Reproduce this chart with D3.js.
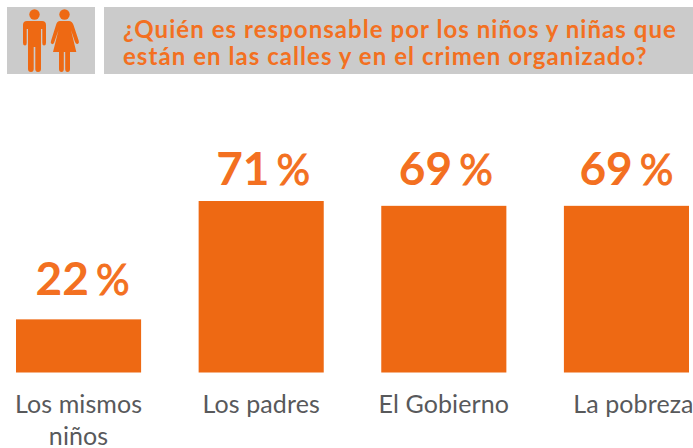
<!DOCTYPE html>
<html>
<head>
<meta charset="utf-8">
<script src="https://cdn.jsdelivr.net/npm/d3@7"></script>
<style>
body { margin: 0; background: #fff; }
svg { display: block; }
text { font-family: Lato, "Open Sans", sans-serif; }
</style>
</head>
<body>
<script>
// chart data
var categories = ["Los mismos niños", "Los padres", "El Gobierno", "La pobreza"];
var values = [22, 71, 69, 69];
var titleLines = ["¿Quién es responsable por los niños y niñas que", "están en las calles y en el crimen organizado?"];

// hand tweaks so the labels sit where the original has them
var valueDx = [4, 2, 2, 0];
var valueGap = [24, 16, 21, 21];
var categoryDx = [0, 0, 0, 7];

var width = 693;
var height = 448;
var orange = "#ee6913";
var labelOrange = "#f37021";
var grey = "#cbcbcb";

var svg = d3.select("body")
    .append("svg")
    .attr("width", width)
    .attr("height", height);

// header boxes
svg.append("rect").attr("x", 7).attr("y", 7).attr("width", 88).attr("height", 67).attr("fill", grey);
svg.append("rect").attr("x", 104).attr("y", 7).attr("width", 589).attr("height", 67).attr("fill", grey);

// man icon
var man = svg.append("g").attr("fill", orange);
man.append("circle").attr("cx", 34.5).attr("cy", 14.5).attr("r", 5.2);
man.append("path").attr("d", "M27 21 H42 Q46 21 46 25 V43 Q46 45.5 44 45.5 Q42.3 45.5 42.3 43 V29 H41 V69 Q41 72 38 72 Q35.3 72 35.3 69 V47 H33.7 V69 Q33.7 72 31 72 Q28 72 28 69 V29 H26.7 V43 Q26.7 45.5 25 45.5 Q23 45.5 23 43 V25 Q23 21 27 21 Z");

// woman icon
var woman = svg.append("g").attr("fill", orange);
woman.append("circle").attr("cx", 64.5).attr("cy", 14.5).attr("r", 5.2);
woman.append("path").attr("d", "M60 21 H69 Q72 21 73.5 25 L78.8 41 Q79.5 43.5 77.5 44 Q76 44.3 75 42 L71 30 L76.3 52 H70 V69 Q70 72 67.5 72 Q65.2 72 65.2 69 V52 H63.8 V69 Q63.8 72 61.5 72 Q59 72 59 69 V52 H53 L58.5 30 L54 43 Q53 44.8 51.5 43.8 Q50.3 43 51 41 L56 25 Q57 21 60 21 Z");

// title
svg.append("text")
    .attr("font-size", "24px")
    .attr("font-weight", 700)
    .attr("letter-spacing", "1.05px")
    .attr("fill", labelOrange)
    .selectAll("tspan")
    .data(titleLines)
    .enter().append("tspan")
    .attr("x", 123)
    .attr("y", function(d, i) { return 38 + i * 27; })
    .text(function(d) { return d; });

// scales
var x = d3.scaleBand().domain(categories).range([16, 689]).paddingInner(0.315).paddingOuter(0);
var y = d3.scaleLinear().domain([0, 71]).range([372.5, 201]);

// bars
svg.selectAll(".bar")
    .data(values)
    .enter().append("rect")
    .attr("class", "bar")
    .attr("fill", orange)
    .attr("x", function(d, i) { return x(categories[i]); })
    .attr("y", function(d) { return y(d); })
    .attr("width", x.bandwidth())
    .attr("height", function(d) { return y(0) - y(d); });

// value labels, the % sign is lighter than the digits
var vals = svg.selectAll(".val")
    .data(values)
    .enter().append("text")
    .attr("class", "val")
    .attr("x", function(d, i) { return x(categories[i]) + x.bandwidth() / 2 + valueDx[i]; })
    .attr("y", function(d, i) { return y(d) - valueGap[i]; })
    .attr("text-anchor", "middle")
    .attr("font-size", "46px")
    .attr("font-weight", 700)
    .attr("fill", labelOrange);
vals.append("tspan").text(function(d) { return d; });
vals.append("tspan")
    .attr("dx", 7)
    .attr("font-weight", 400)
    .attr("font-size", "42px")
    .attr("stroke", labelOrange)
    .attr("stroke-width", 0.9)
    .text("%");

// category labels, wrapped by hand
svg.selectAll(".cat")
    .data(categories)
    .enter().append("text")
    .attr("class", "cat")
    .attr("text-anchor", "middle")
    .attr("font-size", "25px")
    .attr("letter-spacing", "0.1px")
    .attr("fill", "#58595b")
    .each(function(d, n) {
        var lines = d == "Los mismos niños" ? ["Los mismos", "niños"] : [d];
        d3.select(this).selectAll("tspan")
            .data(lines)
            .enter().append("tspan")
            .attr("x", x(d) + x.bandwidth() / 2 + categoryDx[n])
            .attr("y", function(l, i) { return 413 + i * 32; })
            .text(function(l) { return l; });
    });
</script>
</body>
</html>
